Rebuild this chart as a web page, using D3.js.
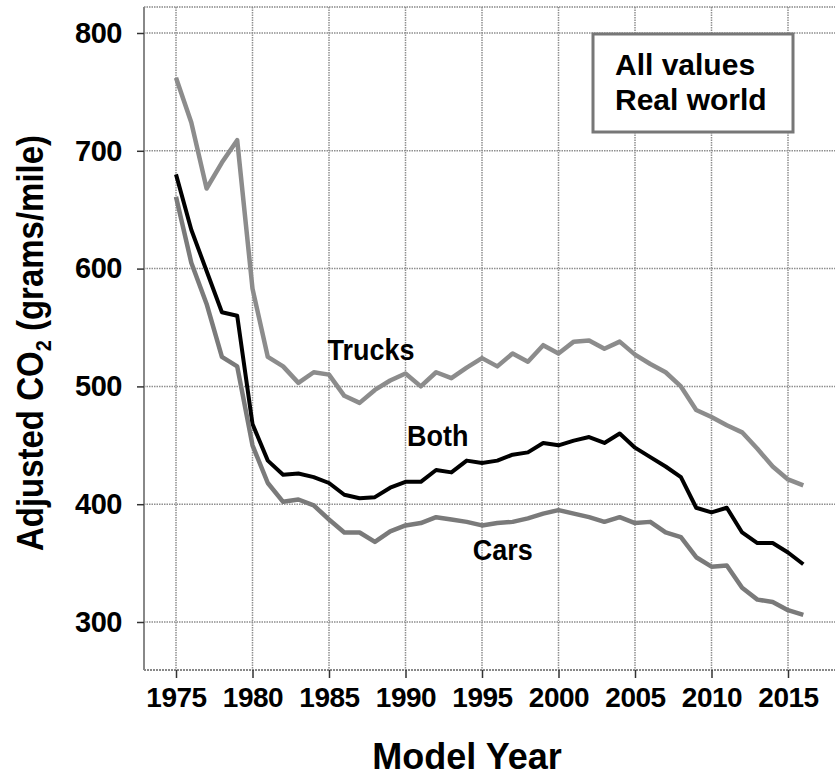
<!DOCTYPE html>
<html><head><meta charset="utf-8">
<script src="https://cdn.jsdelivr.net/npm/d3@7"></script>
<style>body{margin:0;background:#fff}svg{display:block}text{font-family:"Liberation Sans",Arial,sans-serif;font-weight:bold}</style>
</head><body><svg id="c" width="835" height="779"></svg>
<script>
const years = d3.range(1975, 2017);
const trucks = [762,724,668,690,709,583,525,517,503,512,510,492,486,497,505,511,500,512,507,516,524,517,528,521,535,528,538,539,532,538,527,519,512,500,480,474,467,461,447,432,421,416];
const both = [680,633,598,563,560,468,437,425,426,423,418,408,405,406,414,419,419,429,427,437,435,437,442,444,452,450,454,457,452,460,448,440,432,423,397,393,397,376,367,367,359,349];
const cars = [661,605,570,525,517,450,418,402,404,399,387,376,376,368,377,382,384,389,387,385,382,384,385,388,392,395,392,389,385,389,384,385,376,372,355,347,348,329,319,317,310,306];
const xTicks = [1975,1980,1985,1990,1995,2000,2005,2010,2015];
const yTicks = [300,400,500,600,700,800];
const seriesNames = ["Trucks","Both","Cars"];
const labelYears = [1984.9, 1990.1, 1994.4];
const labelValues = [522, 449, 353];
const legendLines = ["All values","Real world"];

const svg = d3.select("#c");
const L = 144, R = 840, T = 7, B = 670;
const x = d3.scaleLinear().domain([1975, 2015]).range([176, 788]);
const y = d3.scaleLinear().domain([300, 800]).range([622, 33]);

// grid
const g = svg.append("g");
g.selectAll(".vg").data(xTicks).join("line")
  .attr("x1", d => x(d)).attr("x2", d => x(d)).attr("y1", T).attr("y2", B)
  .attr("stroke", "#8f8f8f").attr("stroke-width", 1.5).attr("stroke-dasharray", "1.5,1");
g.selectAll(".hg").data(yTicks).join("line")
  .attr("x1", L).attr("x2", R).attr("y1", d => y(d)).attr("y2", d => y(d))
  .attr("stroke", "#8f8f8f").attr("stroke-width", 1.5).attr("stroke-dasharray", "1.5,1");
// frame
g.append("line").attr("x1", L).attr("x2", R).attr("y1", T).attr("y2", T)
  .attr("stroke", "#888").attr("stroke-width", 1.5).attr("stroke-dasharray", "1.5,1");
g.append("line").attr("x1", L).attr("x2", R).attr("y1", B).attr("y2", B)
  .attr("stroke", "#888").attr("stroke-width", 2).attr("stroke-dasharray", "2,1");
g.append("line").attr("x1", L).attr("x2", L).attr("y1", T).attr("y2", B)
  .attr("stroke", "#888").attr("stroke-width", 2);

// axes
const xAxis = d3.axisBottom(x).tickValues(xTicks).tickSize(8).tickPadding(9).tickFormat(d3.format("d"));
const xa = svg.append("g").attr("transform", `translate(0,${B})`).call(xAxis);
xa.select(".domain").remove();
xa.selectAll(".tick line").attr("stroke", "#333").attr("stroke-width", 1.5);
xa.selectAll(".tick text").attr("font-size", 28).attr("fill", "#000")
  .attr("font-family", '"Liberation Sans",Arial,sans-serif').attr("font-weight", "bold")
  .attr("letter-spacing", -0.5).attr("dy", "0.71em");

const yAxis = d3.axisLeft(y).tickValues(yTicks).tickSize(7).tickPadding(15);
const ya = svg.append("g").attr("transform", `translate(${L},0)`).call(yAxis);
ya.select(".domain").remove();
ya.selectAll(".tick line").attr("stroke", "#333").attr("stroke-width", 1.5);
ya.selectAll(".tick text").attr("font-size", 29).attr("fill", "#000")
  .attr("font-family", '"Liberation Sans",Arial,sans-serif').attr("font-weight", "bold")
  .attr("letter-spacing", -0.5);

// lines
const line = d3.line().x((d, i) => x(years[i])).y(d => y(d));
const data = [trucks, both, cars];
const colors = ["#8c8c8c", "#000", "#7a7a7a"];
svg.append("g").selectAll("path").data(data).join("path")
  .attr("d", d => line(d)).attr("fill", "none")
  .attr("stroke", (d, i) => colors[i]).attr("stroke-width", (d, i) => i === 1 ? 4 : 4.5)
  .attr("stroke-linejoin", "round");

// series labels
svg.append("g").selectAll("text").data(seriesNames).join("text")
  .attr("transform", (d, i) => `translate(${x(labelYears[i])},${y(labelValues[i])}) scale(1,1.12)`)
  .attr("font-size", 27).attr("fill", "#000").text(d => d);

// legend box
svg.append("rect").attr("x", 593).attr("y", 34).attr("width", 200).attr("height", 98)
  .attr("fill", "#fff").attr("stroke", "#777").attr("stroke-width", 3);
svg.append("g").selectAll("text").data(legendLines).join("text")
  .attr("x", 615).attr("y", (d, i) => 75 + i * 35).attr("font-size", 30).attr("fill", "#000").text(d => d);

// axis titles
svg.append("text").attr("x", 467).attr("y", 769).attr("text-anchor", "middle")
  .attr("font-size", 36).attr("fill", "#000").text("Model Year");
const yt = svg.append("text").attr("transform", "translate(43,343) rotate(-90) scale(1,1.1)")
  .attr("text-anchor", "middle").attr("font-size", 33).attr("fill", "#000");
yt.append("tspan").text("Adjusted CO");
yt.append("tspan").attr("font-size", 20).attr("dy", 7).text("2");
yt.append("tspan").attr("dy", -7).text(" (grams/mile)");
</script></body></html>
